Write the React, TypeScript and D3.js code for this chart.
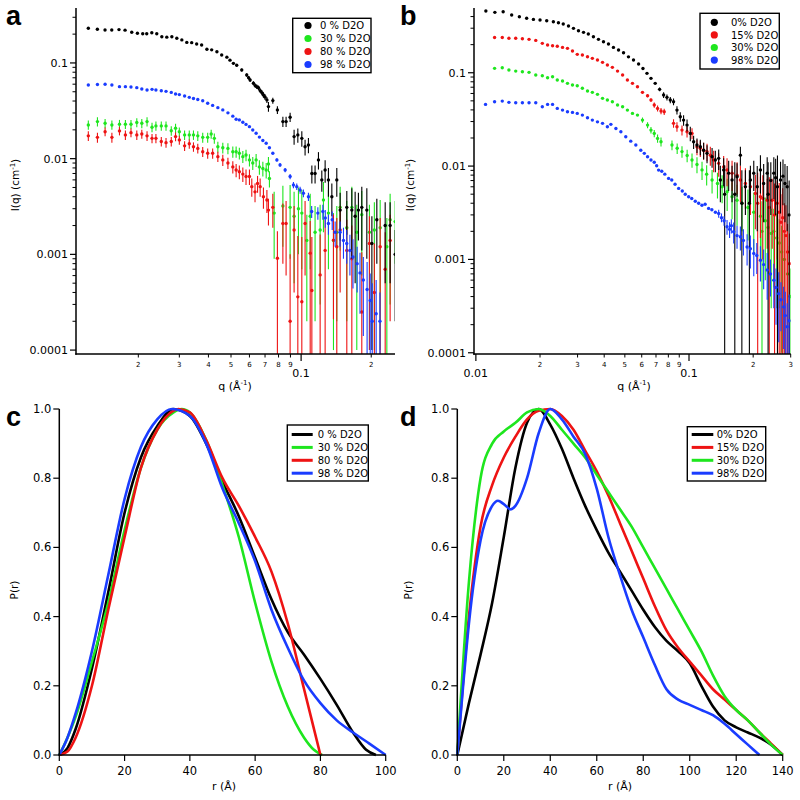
import React from "react";
import * as d3 from "d3";

type Pt = [number, number, number];
type RP = [number, number];

const BLACK = "#000000";
const GREEN = "#1ee61e";
const RED = "#ee1313";
const BLUE = "#1a3cff";

// ---------- Panel a : I(q) ----------
const a_0: Pt[] = [[0.0122,0.230,0],[0.01334,0.225,0],[0.01439,0.221,0],[0.01538,0.221,0],[0.01652,0.223,0],[0.01754,0.220,0],[0.01874,0.209,0],[0.01982,0.204,0],[0.02089,0.202,0],[0.02173,0.202,0],[0.02285,0.207,0],[0.0240,0.202,0],[0.02523,0.188,0],[0.0265,0.186,0],[0.02786,0.188,0],[0.02926,0.181,0],[0.03075,0.174,0],[0.0323,0.164,0],[0.0339,0.163,0],[0.0356,0.158,0],[0.0374,0.154,0],[0.0394,0.139,0.003],[0.0413,0.137,0.003],[0.0435,0.131,0.003],[0.0456,0.121,0.003],[0.0480,0.115,0.003],[0.0495,0.107,0.003],[0.0512,0.099,0.003],[0.0529,0.0946,0.003],[0.0556,0.0845,0.003],[0.0584,0.0749,0.003],[0.0595,0.070,0.003],[0.0604,0.0664,0.003],[0.0624,0.0614,0.003],[0.0635,0.058,0.003],[0.0645,0.0565,0.003],[0.0656,0.055,0.003],[0.0667,0.0514,0.003],[0.0678,0.049,0.003],[0.0689,0.0463,0.003],[0.070,0.044,0.003],[0.0713,0.0411,0.003],[0.0724,0.035,0.004],[0.0756,0.0404,0.003],[0.0791,0.0323,0.003],[0.0835,0.0244,0.003],[0.0862,0.0244,0.003],[0.0897,0.0271,0.003],[0.0933,0.017,0.003],[0.0968,0.0177,0.003],[0.1007,0.0163,0.003],[0.104,0.0133,0.0025],[0.1075,0.0139,0.0025],[0.1112,0.0070,0.0015],[0.1148,0.0070,0.0015],[0.1187,0.0097,0.002],[0.1227,0.0060,0.0015],[0.1268,0.0076,0.002],[0.131,0.0060,0.002],[0.1355,0.0040,0.0015],[0.1423,0.0060,0.002],[0.1471,0.0029,0.0015],[0.1571,0.0031,0.0015],[0.1651,0.0029,0.002],[0.1706,0.0025,0.002],[0.1762,0.0029,0.0015],[0.1822,0.0031,0.002],[0.1915,0.0029,0.002],[0.2013,0.0013,0.0012],[0.2114,0.0023,0.0015],[0.2296,0.0020,0.0015],[0.2411,0.0020,0.0015],[0.2534,0.0010,0.0008]];

const a_30: Pt[] = [[0.0122,0.0225,0.0025],[0.01335,0.0244,0.0027],[0.0144,0.0234,0.0026],[0.0154,0.0225,0.0025],[0.0166,0.0229,0.0025],[0.0176,0.0229,0.0025],[0.0186,0.0229,0.0025],[0.0197,0.0239,0.0026],[0.0207,0.0234,0.0026],[0.0218,0.0244,0.0027],[0.0229,0.0213,0.0024],[0.0238,0.022,0.0024],[0.0251,0.022,0.0024],[0.0263,0.022,0.0024],[0.0277,0.0196,0.0022],[0.0289,0.0208,0.0023],[0.0300,0.0191,0.0021],[0.0316,0.0177,0.002],[0.0331,0.0177,0.002],[0.0345,0.0177,0.002],[0.0360,0.0173,0.002],[0.0378,0.0167,0.002],[0.0397,0.0167,0.002],[0.0411,0.0181,0.002],[0.0424,0.0163,0.002],[0.0439,0.0133,0.0017],[0.0461,0.013,0.0017],[0.0485,0.0128,0.0017],[0.0509,0.0118,0.0016],[0.0526,0.0118,0.0016],[0.0543,0.0114,0.0016],[0.0562,0.0105,0.0015],[0.0580,0.0109,0.0015],[0.0600,0.0097,0.0014],[0.0620,0.009,0.0014],[0.0641,0.0097,0.0015],[0.0662,0.0082,0.0014],[0.0685,0.0079,0.0014],[0.0708,0.0076,0.0014],[0.0724,0.0088,0.0016],[0.0731,0.0062,0.0012],[0.0766,0.0027,0.0018],[0.0835,0.0032,0.002],[0.0897,0.0031,0.0022],[0.0933,0.0025,0.002],[0.0974,0.003,0.002],[0.1007,0.0027,0.002],[0.1058,0.0014,0.0012],[0.1094,0.0025,0.0018],[0.1148,0.0017,0.0015],[0.1207,0.0018,0.0015],[0.1247,0.0037,0.002],[0.131,0.0027,0.002],[0.1377,0.0014,0.0013],[0.1423,0.0017,0.0015],[0.1471,0.0031,0.002],[0.1571,0.0019,0.0017],[0.1651,0.0031,0.002],[0.1734,0.0017,0.0016],[0.1822,0.0026,0.002],[0.1965,0.0017,0.0016],[0.2063,0.0018,0.0017],[0.2185,0.0019,0.0018],[0.2334,0.0012,0.0012],[0.2411,0.0023,0.002],[0.2534,0.0022,0.0014]];

const a_80: Pt[] = [[0.0122,0.0173,0.002],[0.01335,0.0167,0.002],[0.0144,0.0191,0.002],[0.0154,0.0167,0.002],[0.0166,0.0195,0.002],[0.0176,0.0177,0.002],[0.0186,0.0187,0.002],[0.0197,0.0177,0.002],[0.0207,0.0181,0.002],[0.0218,0.0173,0.002],[0.0229,0.0163,0.0018],[0.0238,0.0163,0.0018],[0.0251,0.0151,0.0017],[0.0263,0.0147,0.0017],[0.0277,0.0151,0.0017],[0.0289,0.0170,0.0018],[0.0300,0.0157,0.0017],[0.0316,0.0136,0.0016],[0.0331,0.0143,0.0016],[0.0345,0.0133,0.0015],[0.0360,0.0128,0.0015],[0.0378,0.0118,0.0014],[0.0397,0.0114,0.0014],[0.0417,0.0114,0.0014],[0.0439,0.0105,0.0013],[0.0461,0.0097,0.0013],[0.0485,0.009,0.0012],[0.0509,0.0082,0.0012],[0.0526,0.0076,0.0012],[0.0543,0.0073,0.0012],[0.0562,0.0069,0.0012],[0.0580,0.0065,0.0012],[0.0600,0.0065,0.0012],[0.0614,0.0051,0.0011],[0.0634,0.0045,0.001],[0.0650,0.0055,0.0011],[0.0667,0.0051,0.0011],[0.0689,0.0040,0.001],[0.0713,0.0037,0.001],[0.0724,0.0029,0.0009],[0.0756,0.0031,0.0012],[0.0791,0.00091,0.00083],[0.0835,0.0021,0.0013],[0.0862,0.0021,0.0015],[0.0897,0.0002,0.0008],[0.0933,0.0018,0.0014],[0.0968,0.00036,0.0012],[0.1007,0.00032,0.0012],[0.104,0.0021,0.0015],[0.1094,0.00103,0.0012],[0.1112,0.00042,0.0011],[0.1207,0.00061,0.001],[0.1268,0.0011,0.0012],[0.1377,0.00141,0.0012],[0.1423,0.0012,0.0012],[0.1471,0.0018,0.0014],[0.1571,0.0011,0.0012],[0.1651,0.0009,0.0011],[0.1822,0.00025,0.0008],[0.1965,0.0013,0.0012],[0.2063,0.0004,0.0009],[0.2185,0.0012,0.0012],[0.2296,0.0007,0.001],[0.2411,0.0014,0.0012]];

const a_98: Pt[] = [[0.0122,0.0589,0],[0.01335,0.0595,0],[0.0144,0.0599,0],[0.0154,0.0589,0],[0.0166,0.0565,0],[0.0176,0.0565,0],[0.0186,0.056,0],[0.0197,0.0552,0],[0.0207,0.0535,0],[0.0218,0.0522,0],[0.0229,0.053,0],[0.0238,0.0522,0],[0.0251,0.0513,0],[0.0263,0.0505,0],[0.0277,0.0492,0],[0.0289,0.0474,0],[0.0300,0.0467,0],[0.0316,0.0452,0],[0.0331,0.0437,0],[0.0345,0.0425,0],[0.0360,0.0415,0],[0.0378,0.0403,0],[0.0397,0.0379,0],[0.0417,0.036,0],[0.0439,0.0341,0],[0.0461,0.0323,0],[0.0485,0.0301,0],[0.0509,0.0278,0],[0.0526,0.0258,0],[0.0543,0.0254,0],[0.0562,0.024,0],[0.0580,0.0228,0],[0.0600,0.0216,0],[0.0620,0.0199,0],[0.0641,0.0184,0],[0.0662,0.0168,0],[0.0685,0.0155,0],[0.0708,0.0145,0],[0.0731,0.013,0],[0.0756,0.0114,0.0003],[0.0787,0.0097,0.0004],[0.0812,0.0086,0.0004],[0.0854,0.0076,0.0004],[0.0897,0.0065,0.0004],[0.0927,0.0053,0.0004],[0.0958,0.0051,0.0004],[0.099,0.0047,0.0004],[0.1023,0.00435,0.0004],[0.1075,0.0040,0.0004],[0.111,0.0028,0.0004],[0.118,0.0027,0.0004],[0.124,0.0028,0.0005],[0.127,0.0024,0.0005],[0.131,0.0021,0.0005],[0.136,0.0023,0.0005],[0.140,0.0017,0.0005],[0.147,0.0017,0.0005],[0.152,0.0014,0.0005],[0.157,0.0013,0.0005],[0.162,0.0011,0.0005],[0.167,0.00094,0.0005],[0.174,0.0008,0.0004],[0.179,0.00064,0.0004],[0.185,0.00054,0.0004],[0.192,0.00043,0.0004],[0.198,0.00033,0.0003],[0.202,0.0002,0.0003],[0.21,0.00024,0.0003],[0.218,0.0002,0.0002]];

// ---------- Panel b : I(q) ----------
const b_0: Pt[] = [[0.01114,0.458,0],[0.01228,0.444,0],[0.01343,0.451,0],[0.01472,0.415,0],[0.0160,0.398,0],[0.01731,0.383,0],[0.01862,0.373,0],[0.0200,0.367,0],[0.0215,0.361,0],[0.0231,0.352,0],[0.0244,0.343,0],[0.0257,0.333,0],[0.0272,0.317,0],[0.0287,0.299,0],[0.0303,0.282,0],[0.0320,0.271,0],[0.0337,0.260,0],[0.0356,0.243,0],[0.0376,0.228,0],[0.0397,0.215,0],[0.0419,0.203,0],[0.0442,0.187,0],[0.0467,0.175,0],[0.0493,0.164,0],[0.0520,0.148,0],[0.0549,0.137,0],[0.0580,0.124,0],[0.0608,0.111,0],[0.0635,0.0985,0],[0.0663,0.0871,0],[0.0694,0.077,0],[0.0728,0.0664,0.003],[0.0760,0.0577,0.004],[0.0788,0.0545,0.004],[0.0817,0.051,0.004],[0.0846,0.0489,0.004],[0.0878,0.0398,0.004],[0.0910,0.0338,0.004],[0.0943,0.0311,0.004],[0.0979,0.0275,0.004],[0.1014,0.0224,0.004],[0.1051,0.0182,0.003],[0.1090,0.0168,0.003],[0.1130,0.0161,0.003],[0.1171,0.0148,0.003],[0.1215,0.0137,0.003],[0.1283,0.0126,0.003],[0.1329,0.0116,0.003],[0.1378,0.0121,0.003],[0.1403,0.0071,0.003],[0.1454,0.0091,0.003],[0.147,0.005,0.0052],[0.1535,0.0084,0.003],[0.1592,0.0071,0.003],[0.164,0.005,0.006],[0.1681,0.0077,0.003],[0.1742,0.0131,0.003],[0.177,0.004,0.005],[0.1839,0.006,0.003],[0.192,0.004,0.005],[0.1941,0.0071,0.003],[0.2013,0.0084,0.003],[0.209,0.006,0.004],[0.2163,0.0091,0.004],[0.224,0.0065,0.004],[0.2327,0.0084,0.004],[0.235,0.005,0.006],[0.242,0.007,0.004],[0.25,0.0084,0.004],[0.255,0.0075,0.0045],[0.26,0.006,0.007],[0.2688,0.0071,0.004],[0.276,0.0078,0.004],[0.282,0.0065,0.004],[0.2888,0.006,0.004],[0.295,0.003,0.004]];

const b_15: Pt[] = [[0.01224,0.239,0],[0.0133,0.239,0],[0.01429,0.234,0],[0.01538,0.234,0],[0.01653,0.2314,0],[0.01776,0.228,0],[0.0191,0.222,0],[0.0205,0.2065,0],[0.0217,0.198,0],[0.0229,0.1947,0],[0.0241,0.192,0],[0.0255,0.187,0],[0.0269,0.1826,0],[0.0284,0.1708,0],[0.0299,0.1574,0],[0.0316,0.155,0],[0.0334,0.1484,0],[0.0352,0.1426,0],[0.0372,0.1368,0],[0.0393,0.1293,0],[0.0414,0.121,0],[0.0437,0.1143,0],[0.0462,0.1042,0],[0.0488,0.0945,0],[0.0514,0.0835,0],[0.0543,0.077,0],[0.0573,0.0708,0],[0.0605,0.0617,0.002],[0.0639,0.0567,0.002],[0.0663,0.051,0.002],[0.0687,0.0451,0.003],[0.0712,0.0415,0.003],[0.0739,0.0389,0.003],[0.0765,0.0382,0.003],[0.0846,0.0287,0.003],[0.0878,0.0264,0.003],[0.0927,0.0243,0.003],[0.0979,0.0233,0.003],[0.1033,0.0224,0.003],[0.109,0.0161,0.003],[0.113,0.0155,0.003],[0.1171,0.0148,0.003],[0.1215,0.0143,0.003],[0.1259,0.0131,0.003],[0.1305,0.0116,0.003],[0.1378,0.0107,0.003],[0.1454,0.0098,0.003],[0.1508,0.0091,0.003],[0.1592,0.0084,0.003],[0.1681,0.008,0.003],[0.1742,0.0071,0.003],[0.1839,0.0065,0.003],[0.1941,0.006,0.003],[0.2048,0.0051,0.003],[0.21,0.004,0.0045],[0.2163,0.0047,0.003],[0.222,0.0045,0.0035],[0.2327,0.0043,0.003],[0.238,0.0036,0.004],[0.2456,0.0043,0.003],[0.252,0.003,0.0035],[0.2592,0.004,0.003],[0.265,0.0032,0.0034],[0.27,0.0025,0.0025],[0.275,0.0028,0.003],[0.28,0.002,0.002],[0.285,0.0018,0.002],[0.29,0.0012,0.0012],[0.296,0.0009,0.001]];

const b_30: Pt[] = [[0.01224,0.1114,0],[0.0133,0.113,0],[0.01429,0.107,0],[0.01538,0.1042,0],[0.01653,0.1025,0],[0.01776,0.101,0],[0.0191,0.0945,0],[0.0205,0.093,0],[0.0217,0.0884,0],[0.0229,0.0906,0],[0.0241,0.0835,0],[0.0255,0.0815,0],[0.0269,0.077,0],[0.0284,0.0738,0],[0.0299,0.0726,0],[0.0316,0.0681,0],[0.0334,0.0637,0],[0.0352,0.0617,0],[0.0372,0.0587,0],[0.0393,0.0532,0],[0.0414,0.051,0],[0.0437,0.0489,0],[0.0462,0.0451,0],[0.0488,0.0432,0],[0.0514,0.0398,0],[0.0543,0.0367,0],[0.0573,0.0352,0],[0.0605,0.0311,0.002],[0.0639,0.0275,0.002],[0.0663,0.0243,0.002],[0.0687,0.0224,0.002],[0.0712,0.0198,0.002],[0.0739,0.0182,0.002],[0.0832,0.0168,0.002],[0.088,0.0155,0.002],[0.0927,0.0143,0.002],[0.098,0.013,0.002],[0.1033,0.0116,0.002],[0.109,0.0104,0.002],[0.1151,0.0091,0.002],[0.121,0.0082,0.002],[0.1283,0.0071,0.002],[0.136,0.0065,0.002],[0.143,0.006,0.002],[0.151,0.0053,0.002],[0.1592,0.0047,0.002],[0.168,0.0043,0.002],[0.1773,0.004,0.002],[0.189,0.0036,0.002],[0.2013,0.0032,0.002],[0.2163,0.0029,0.002],[0.22,0.002,0.0022],[0.228,0.0026,0.002],[0.235,0.0022,0.0015],[0.243,0.0019,0.0016],[0.25,0.002,0.0015],[0.258,0.0017,0.0014],[0.265,0.0015,0.0012],[0.272,0.0012,0.0011],[0.28,0.001,0.0009],[0.29,0.0007,0.0007],[0.298,0.0004,0.0004]];

const b_98: Pt[] = [[0.0111,0.0458,0],[0.01224,0.0489,0],[0.0133,0.0497,0],[0.01429,0.0482,0],[0.01538,0.0477,0],[0.01653,0.0477,0],[0.01776,0.0477,0],[0.0191,0.0477,0],[0.0205,0.0432,0],[0.0217,0.0458,0],[0.0229,0.0458,0],[0.0241,0.0415,0],[0.0255,0.0398,0],[0.0269,0.0382,0],[0.0284,0.0376,0],[0.0299,0.0367,0],[0.0316,0.0352,0],[0.0334,0.033,0],[0.0352,0.0311,0],[0.0372,0.0298,0],[0.0393,0.0287,0],[0.0414,0.0264,0],[0.043,0.028,0],[0.0454,0.0253,0],[0.0479,0.0233,0],[0.0505,0.0206,0],[0.0533,0.0185,0],[0.0563,0.0168,0],[0.0594,0.0148,0],[0.0617,0.0137,0],[0.0639,0.0126,0],[0.0663,0.0116,0],[0.0687,0.011,0],[0.0705,0.0101,0],[0.072,0.00906,0],[0.0745,0.0088,0],[0.077,0.0082,0],[0.0802,0.00738,0],[0.083,0.0071,0],[0.086,0.0064,0],[0.0894,0.00577,0],[0.093,0.0054,0],[0.096,0.005,0],[0.0996,0.00469,0],[0.103,0.0045,0],[0.107,0.0042,0],[0.111,0.0040,0],[0.115,0.0038,0],[0.119,0.0039,0],[0.1236,0.00352,0],[0.128,0.0034,0],[0.133,0.0032,0],[0.1378,0.0031,0.0003],[0.142,0.0028,0.0003],[0.146,0.0026,0.0003],[0.1508,0.00224,0.0004],[0.155,0.0021,0.0004],[0.158,0.0023,0.0004],[0.162,0.00198,0.0005],[0.168,0.0018,0.0005],[0.1742,0.00175,0.0005],[0.18,0.0016,0.0005],[0.1873,0.00136,0.0005],[0.194,0.0013,0.0005],[0.2013,0.00116,0.0005],[0.208,0.0011,0.0004],[0.2163,0.00098,0.0004],[0.224,0.00088,0.0004],[0.2327,0.00077,0.0004],[0.241,0.0007,0.0003],[0.25,0.0006,0.0003],[0.256,0.0005,0.0003],[0.2637,0.00043,0.0003],[0.27,0.00037,0.0002],[0.278,0.00031,0.0002],[0.283,0.00025,0.0002],[0.2888,0.00019,0.00015],[0.295,0.00022,0.0002]];

// ---------- Panel c : P(r) ----------
const c_0: RP[] = [[0,0],[2.5,0.02],[5,0.075],[10,0.25],[15,0.47],[20,0.7],[25,0.86],[30,0.95],[35,1.0],[40,0.98],[45,0.9],[50,0.79],[55,0.69],[60,0.57],[65,0.45],[70,0.355],[75,0.29],[80,0.22],[85,0.145],[90,0.065],[94,0.015],[97,0]];
const c_30: RP[] = [[0,0],[2.5,0.05],[5,0.11],[10,0.27],[15,0.44],[20,0.65],[25,0.83],[30,0.94],[35,0.99],[37.5,1.0],[40,0.99],[45,0.91],[50,0.78],[55,0.63],[60,0.44],[65,0.27],[70,0.14],[75,0.05],[78,0.015],[80.5,0]];
const c_80: RP[] = [[0,0],[2.5,0.01],[5,0.05],[10,0.2],[15,0.42],[20,0.63],[25,0.83],[30,0.94],[35,0.995],[36.5,1.0],[40,0.99],[45,0.91],[50,0.8],[55,0.72],[60,0.63],[65,0.53],[70,0.38],[75,0.19],[80,0]];
const c_98: RP[] = [[0,0],[2.5,0.05],[5,0.12],[10,0.3],[15,0.52],[20,0.74],[25,0.89],[30,0.97],[34.5,1.0],[40,0.98],[45,0.9],[50,0.77],[55,0.67],[60,0.56],[65,0.42],[70,0.31],[75,0.215],[80,0.15],[85,0.1],[90,0.065],[95,0.033],[100,0]];

// ---------- Panel d : P(r) ----------
const d_0: RP[] = [[0,0],[5,0.15],[10,0.29],[15,0.44],[20,0.63],[25,0.83],[30,0.96],[35,1.0],[40,0.955],[45,0.885],[50,0.8],[55,0.72],[60,0.65],[65,0.585],[70,0.53],[75,0.475],[80,0.42],[85,0.37],[90,0.33],[95,0.3],[100,0.265],[105,0.2],[110,0.14],[115,0.1],[120,0.08],[125,0.065],[130,0.05],[135,0.03],[140,0]];
const d_15: RP[] = [[0,0],[5,0.4],[10,0.66],[15,0.78],[20,0.86],[25,0.92],[30,0.97],[35,0.995],[40,1.0],[45,0.98],[50,0.94],[55,0.88],[60,0.82],[65,0.75],[70,0.67],[75,0.59],[80,0.51],[85,0.43],[90,0.36],[95,0.31],[100,0.27],[105,0.23],[110,0.19],[115,0.16],[120,0.13],[125,0.1],[130,0.065],[135,0.033],[140,0]];
const d_30: RP[] = [[0,0],[5,0.5],[10,0.8],[15,0.9],[20,0.935],[25,0.96],[30,0.99],[35,1.0],[40,0.98],[45,0.94],[50,0.9],[55,0.86],[60,0.81],[65,0.76],[70,0.71],[75,0.66],[80,0.6],[85,0.54],[90,0.48],[95,0.42],[100,0.36],[105,0.3],[110,0.23],[115,0.17],[120,0.13],[125,0.1],[130,0.065],[135,0.03],[140,0]];
const d_98: RP[] = [[0,0],[2.5,0.2],[5,0.38],[10,0.62],[15,0.72],[17.5,0.735],[20,0.725],[23,0.71],[25,0.72],[30,0.8],[35,0.93],[40,1.0],[45,0.97],[50,0.92],[55,0.87],[60,0.77],[65,0.63],[70,0.52],[75,0.42],[80,0.34],[85,0.26],[90,0.19],[95,0.16],[100,0.145],[105,0.13],[110,0.115],[115,0.09],[120,0.06],[125,0.03],[130,0]];

// ---------- labels ----------
const legendAC = ["0 % D2O", "30 % D2O", "80 % D2O", "98 % D2O"];
const legendBD = ["0% D2O", "15% D2O", "30% D2O", "98% D2O"];
const logYTicks = [0.0001, 0.001, 0.01, 0.1];
const logYTickLabels = ["0.0001", "0.001", "0.01", "0.1"];
const logXMajor = [0.01, 0.1];
const logXMajorLabels = ["0.01", "0.1"];
const prYTicks = [0, 0.2, 0.4, 0.6, 0.8, 1.0];
const prXTicksC = [0, 20, 40, 60, 80, 100];
const prXTicksD = [0, 20, 40, 60, 80, 100, 120, 140];

const FONT = "DejaVu Sans";

type LogLayout = {
  id: string; left: number; right: number; top: number; bottom: number;
  xDom: [number, number]; yDom: [number, number];
  series: { data: Pt[]; color: string }[];
  legend: { labels: string[]; colors: string[] };
  box: { x: number; y: number; w: number; h: number; mx: number; tx: number; r0: number; dy: number };
  letter: string; letterX: number;
  yTitleX: number; xTitleX: number;
};

function LogPanel(p: LogLayout) {
  const x = d3.scaleLog().domain(p.xDom).range([p.left, p.right]);
  const y = d3.scaleLog().domain(p.yDom).range([p.bottom, p.top]);
  const minorX: { v: number; k: number }[] = [];
  const minorY: number[] = [];
  for (let e = -5; e <= 0; e++) {
    for (let k = 2; k <= 9; k++) {
      const v = k * Math.pow(10, e);
      if (v >= p.xDom[0] && v <= p.xDom[1] * 1.0001) minorX.push({ v, k });
      if (v >= p.yDom[0] && v <= p.yDom[1]) minorY.push(v);
    }
  }
  const clip = `clip-${p.id}`;
  return (
    <g>
      <defs>
        <clipPath id={clip}>
          <rect x={p.left} y={p.top} width={p.right - p.left} height={p.bottom - p.top} />
        </clipPath>
      </defs>
      <g clipPath={`url(#${clip})`}>
        {p.series.map((s, si) => (
          <g key={si}>
            {s.data.filter((d) => d[2] > 0).map((d, i) => {
              const lo = d[1] - d[2];
              const yLo = lo > p.yDom[0] ? y(lo) : p.bottom + 2;
              const yHi = y(Math.min(d[1] + d[2], p.yDom[1]));
              return <line key={i} x1={x(d[0])} x2={x(d[0])} y1={yLo} y2={yHi} stroke={s.color} strokeWidth={1.1} />;
            })}
            {s.data.map((d, i) => (
              <circle key={"c" + i} cx={x(d[0])} cy={y(d[1])} r={1.7} fill={s.color} />
            ))}
          </g>
        ))}
      </g>
      <line x1={p.left} x2={p.left} y1={p.top} y2={p.bottom + 0.75} stroke="#000" strokeWidth={1.5} />
      <line x1={p.left - 0.75} x2={p.right} y1={p.bottom} y2={p.bottom} stroke="#000" strokeWidth={1.5} />
      {logYTicks.filter((v) => v >= p.yDom[0]).map((v, i) => (
        <g key={"yt" + i}>
          <line x1={p.left - 6} x2={p.left} y1={y(v)} y2={y(v)} stroke="#000" strokeWidth={1.2} />
          <text x={p.left - 8} y={y(v)} dy="0.35em" textAnchor="end" fontSize={11} fontFamily={FONT}>{logYTickLabels[logYTicks.indexOf(v)]}</text>
        </g>
      ))}
      {minorY.map((v, i) => (
        <line key={"ym" + i} x1={p.left - 3.5} x2={p.left} y1={y(v)} y2={y(v)} stroke="#000" strokeWidth={1} />
      ))}
      {logXMajor.filter((v) => v >= p.xDom[0] && v <= p.xDom[1]).map((v, i) => (
        <g key={"xt" + i}>
          <line x1={x(v)} x2={x(v)} y1={p.bottom} y2={p.bottom + 7} stroke="#000" strokeWidth={1.2} />
          <text x={x(v)} y={p.bottom + 23} textAnchor="middle" fontSize={11} fontFamily={FONT}>{logXMajorLabels[logXMajor.indexOf(v)]}</text>
        </g>
      ))}
      {minorX.map((m, i) => (
        <g key={"xm" + i}>
          <line x1={x(m.v)} x2={x(m.v)} y1={p.bottom} y2={p.bottom + 3.5} stroke="#000" strokeWidth={1} />
          <text x={x(m.v)} y={p.bottom + 12.5} textAnchor="middle" fontSize={7} fontFamily={FONT}>{String(m.k)}</text>
        </g>
      ))}
      <text transform={`translate(${p.yTitleX},${(p.top + p.bottom) / 2 + 4}) rotate(-90)`} textAnchor="middle" fontSize={10.5} fontFamily={FONT}>
        I(q) (cm<tspan dy={-4} fontSize={7}>-1</tspan><tspan dy={4}>)</tspan>
      </text>
      <text x={p.xTitleX} y={390} textAnchor="middle" fontSize={11} fontFamily={FONT}>
        q (Å<tspan dy={-5} fontSize={7}>-1</tspan><tspan dy={5}>)</tspan>
      </text>
      <text x={p.letterX} y={p.top + 17} fontSize={27} fontWeight="bold" fontFamily="Liberation Sans">{p.letter}</text>
      <rect x={p.box.x} y={p.box.y} width={p.box.w} height={p.box.h} fill="#fff" stroke="#000" strokeWidth={1.4} />
      {p.legend.labels.map((l, i) => (
        <g key={"lg" + i}>
          <circle cx={p.box.mx} cy={p.box.r0 + i * p.box.dy} r={3.6} fill={p.legend.colors[i]} />
          <text x={p.box.tx} y={p.box.r0 + i * p.box.dy} dy="0.36em" fontSize={10} fontFamily={FONT}>{l}</text>
        </g>
      ))}
    </g>
  );
}

type PrLayout = {
  left: number; right: number; top: number; bottom: number; xMax: number;
  xTicks: number[];
  series: { data: RP[]; color: string }[];
  legend: { labels: string[]; colors: string[] };
  box: { x: number; y: number; w: number; h: number; l1: number; l2: number; tx: number; r0: number; dy: number };
  letter: string; letterX: number; yTitleX: number; xTitleX: number;
};

function PrPanel(p: PrLayout) {
  const x = d3.scaleLinear().domain([0, p.xMax]).range([p.left, p.right]);
  const y = d3.scaleLinear().domain([0, 1]).range([p.bottom, p.top]);
  const line = d3.line<RP>().x((d) => x(d[0])).y((d) => y(d[1])).curve(d3.curveMonotoneX);
  return (
    <g>
      {p.series.map((s, i) => (
        <path key={i} d={line(s.data) || ""} fill="none" stroke={s.color} strokeWidth={2.6} strokeLinejoin="round" />
      ))}
      <line x1={p.left} x2={p.left} y1={p.top} y2={p.bottom + 0.75} stroke="#000" strokeWidth={1.5} />
      <line x1={p.left - 0.75} x2={p.right} y1={p.bottom} y2={p.bottom} stroke="#000" strokeWidth={1.5} />
      {prYTicks.map((v, i) => (
        <g key={"y" + i}>
          <line x1={p.left - 6} x2={p.left} y1={y(v)} y2={y(v)} stroke="#000" strokeWidth={1.2} />
          <text x={p.left - 8} y={y(v)} dy="0.35em" textAnchor="end" fontSize={11.5} fontFamily={FONT}>{v.toFixed(1)}</text>
        </g>
      ))}
      {p.xTicks.map((v, i) => (
        <g key={"x" + i}>
          <line x1={x(v)} x2={x(v)} y1={p.bottom} y2={p.bottom + 6} stroke="#000" strokeWidth={1.2} />
          <text x={x(v)} y={p.bottom + 20} textAnchor="middle" fontSize={11.5} fontFamily={FONT}>{String(v)}</text>
        </g>
      ))}
      <text transform={`translate(${p.yTitleX},${(p.top + p.bottom) / 2 + 8}) rotate(-90)`} textAnchor="middle" fontSize={10.5} fontFamily={FONT}>P(r)</text>
      <text x={p.xTitleX} y={790} textAnchor="middle" fontSize={11} fontFamily={FONT}>r (Å)</text>
      <text x={p.letterX} y={p.top + 17} fontSize={27} fontWeight="bold" fontFamily="Liberation Sans">{p.letter}</text>
      <rect x={p.box.x} y={p.box.y} width={p.box.w} height={p.box.h} fill="#fff" stroke="#000" strokeWidth={1.4} />
      {p.legend.labels.map((l, i) => (
        <g key={"lg" + i}>
          <line x1={p.box.l1} x2={p.box.l2} y1={p.box.r0 + i * p.box.dy} y2={p.box.r0 + i * p.box.dy} stroke={p.legend.colors[i]} strokeWidth={3} />
          <text x={p.box.tx} y={p.box.r0 + i * p.box.dy} dy="0.36em" fontSize={10} fontFamily={FONT}>{l}</text>
        </g>
      ))}
    </g>
  );
}

export default function App() {
  return (
    <svg width={800} height={800} style={{ position: "absolute", left: 0, top: 0, background: "#fff" }}>
      <rect x={0} y={0} width={800} height={800} fill="#fff" />
      <LogPanel
        id="a" left={76} right={395} top={8} bottom={354}
        xDom={[0.0108, 0.253]} yDom={[9.1e-5, 0.375]}
        series={[{ data: a_30, color: GREEN }, { data: a_80, color: RED }, { data: a_0, color: BLACK }, { data: a_98, color: BLUE }]}
        legend={{ labels: legendAC, colors: [BLACK, GREEN, RED, BLUE] }}
        box={{ x: 292.7, y: 18.3, w: 78.3, h: 54.4, mx: 308, tx: 320, r0: 25.5, dy: 13 }}
        letter="a" letterX={6} yTitleX={19} xTitleX={235}
      />
      <LogPanel
        id="b" left={474} right={790.7} top={8} bottom={354}
        xDom={[0.0098, 0.3]} yDom={[9.7e-5, 0.494]}
        series={[{ data: b_30, color: GREEN }, { data: b_15, color: RED }, { data: b_0, color: BLACK }, { data: b_98, color: BLUE }]}
        legend={{ labels: legendBD, colors: [BLACK, RED, GREEN, BLUE] }}
        box={{ x: 700, y: 13.3, w: 79.3, h: 55.7, mx: 714.3, tx: 731, r0: 22.3, dy: 12.6 }}
        letter="b" letterX={400} yTitleX={414} xTitleX={634}
      />
      <PrPanel
        left={59.3} right={385.7} top={409} bottom={755} xMax={100} xTicks={prXTicksC}
        series={[{ data: c_0, color: BLACK }, { data: c_30, color: GREEN }, { data: c_80, color: RED }, { data: c_98, color: BLUE }]}
        legend={{ labels: legendAC, colors: [BLACK, GREEN, RED, BLUE] }}
        box={{ x: 287.3, y: 425, w: 81, h: 56, l1: 291.7, l2: 312.7, tx: 317.7, r0: 434.5, dy: 12.9 }}
        letter="c" letterX={6} yTitleX={18} xTitleX={224}
      />
      <PrPanel
        left={457.3} right={782.7} top={409} bottom={755} xMax={140} xTicks={prXTicksD}
        series={[{ data: d_0, color: BLACK }, { data: d_15, color: RED }, { data: d_30, color: GREEN }, { data: d_98, color: BLUE }]}
        legend={{ labels: legendBD, colors: [BLACK, RED, GREEN, BLUE] }}
        box={{ x: 687.3, y: 426.7, w: 78.4, h: 54.3, l1: 691.7, l2: 713.3, tx: 716.7, r0: 434.5, dy: 12.9 }}
        letter="d" letterX={400} yTitleX={412} xTitleX={620}
      />
    </svg>
  );
}
